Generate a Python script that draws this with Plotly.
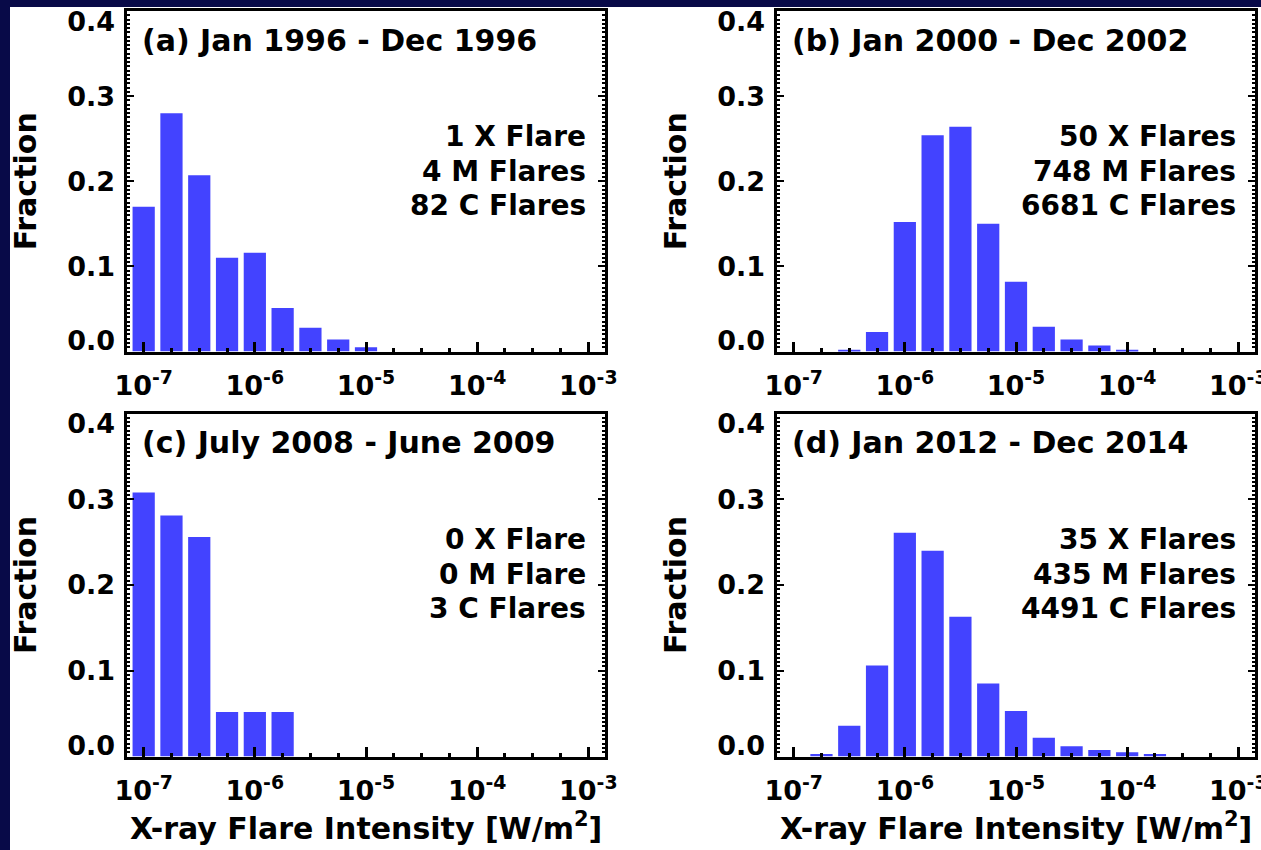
import plotly.graph_objects as go

W, H = 1261, 850

# Histogram bin centres in log10(W/m^2), 0.25-decade bins, and fraction per bin
A_LOGI = [-7.0, -6.75, -6.5, -6.25, -6.0, -5.75, -5.5, -5.25, -5.0]
A_FRAC = [0.170, 0.280, 0.207, 0.110, 0.116, 0.051, 0.028, 0.014, 0.005]

B_LOGI = [-6.5, -6.25, -6.0, -5.75, -5.5, -5.25, -5.0, -4.75, -4.5, -4.25, -4.0]
B_FRAC = [0.002, 0.023, 0.152, 0.254, 0.264, 0.150, 0.082, 0.029, 0.014, 0.007, 0.002]

C_LOGI = [-7.0, -6.75, -6.5, -6.25, -6.0, -5.75]
C_FRAC = [0.308, 0.281, 0.256, 0.052, 0.052, 0.052]

D_LOGI = [-6.75, -6.5, -6.25, -6.0, -5.75, -5.5, -5.25, -5.0, -4.75, -4.5, -4.25, -4.0, -3.75]
D_FRAC = [0.003, 0.036, 0.106, 0.261, 0.240, 0.163, 0.085, 0.053, 0.022, 0.012, 0.0075, 0.005, 0.003]

PANEL_TITLES = [
    "(a) Jan 1996 - Dec 1996",
    "(b) Jan 2000 - Dec 2002",
    "(c) July 2008 - June 2009",
    "(d) Jan 2012 - Dec 2014",
]
FLARE_COUNTS = [
    ["1 X Flare", "4 M Flares", "82 C Flares"],
    ["50 X Flares", "748 M Flares", "6681 C Flares"],
    ["0 X Flare", "0 M Flare", "3 C Flares"],
    ["35 X Flares", "435 M Flares", "4491 C Flares"],
]
X_TICK_EXP = [-7, -6, -5, -4, -3]
Y_TICKS = [0.0, 0.1, 0.2, 0.3, 0.4]
Y_TICK_TEXT = ["0.0", "0.1", "0.2", "0.3", "0.4"]
Y_TITLE = "Fraction"
X_TITLE = "X-ray Flare Intensity [W/m<sup>2</sup>]"

NAVY = "#080a48"
BAR_BLUE = "#4343ff"
FONT = "DejaVu Sans"

# Plot boxes in pixels: (left, right, top, bottom)
BOXES = [
    (127, 605, 11, 351.5),
    (777, 1255, 11, 351.5),
    (127, 605, 413.5, 756.5),
    (777, 1255, 413.5, 756.5),
]
SERIES = [(A_LOGI, A_FRAC), (B_LOGI, B_FRAC), (C_LOGI, C_FRAC), (D_LOGI, D_FRAC)]


def px(x):
    return x / W


def py(y):
    return 1 - y / H


def bold(size):
    return dict(family=FONT, size=size, color="black", weight="bold")


fig = go.Figure()
layout = {}
annotations = []

for i, ((left, right, top, bottom), (logi, frac)) in enumerate(zip(BOXES, SERIES), start=1):
    fig.add_trace(go.Bar(
        x=logi, y=frac, width=0.2,
        marker=dict(color=BAR_BLUE, line=dict(width=0)),
        xaxis=f"x{i}", yaxis=f"y{i}", showlegend=False, hoverinfo="skip",
    ))
    # empty trace so the label-only axis is laid out
    fig.add_trace(go.Scatter(x=[], y=[], xaxis=f"x{i}", yaxis=f"y{i + 4}",
                             showlegend=False, hoverinfo="skip"))

    layout[f"xaxis{i}"] = dict(
        domain=[px(left), px(right)], anchor=f"y{i}",
        range=[-7.15, -2.85], tickmode="array", tickvals=X_TICK_EXP,
        ticktext=[f"10<sup>{e}</sup>" for e in X_TICK_EXP],
        ticks="inside", ticklen=10, tickwidth=3, tickcolor="black",
        minor=dict(tickmode="linear", tick0=-7, dtick=0.25, ticks="inside",
                   ticklen=4, tickwidth=3, tickcolor="black", showgrid=False),
        showline=True, linewidth=3, linecolor="black", mirror=True,
        showgrid=False, zeroline=False, tickfont=bold(27),
        ticklabelstandoff=8, ticklabeloverflow="allow",
        automargin=False, fixedrange=True,
    )
    layout[f"yaxis{i}"] = dict(
        domain=[py(bottom), py(top)], anchor=f"x{i}",
        range=[0, 0.4], tickmode="array", tickvals=Y_TICKS,
        ticks="inside", ticklen=7, tickwidth=2, tickcolor="black",
        minor=dict(tickmode="linear", tick0=0, dtick=0.005, ticks="inside",
                   ticklen=3, tickwidth=1.5, tickcolor="black", showgrid=False),
        showticklabels=False, showline=True, linewidth=3, linecolor="black",
        mirror="ticks", showgrid=False, zeroline=False,
        automargin=False, fixedrange=True,
    )
    # tick labels; the end labels sit inside the axis span
    layout[f"yaxis{i + 4}"] = dict(
        overlaying=f"y{i}", anchor=f"x{i}", side="left",
        range=[0, 0.4], tickmode="array",
        tickvals=[0.0125, 0.1, 0.2, 0.3, 0.388], ticktext=Y_TICK_TEXT,
        ticks="", showline=False, showgrid=False, zeroline=False,
        tickfont=bold(27), ticklabelstandoff=11, ticklabeloverflow="allow",
        automargin=False, fixedrange=True,
    )

    annotations.append(dict(
        text=PANEL_TITLES[i - 1], x=px(left + 13), y=py(top + 29),
        xanchor="left", yanchor="middle", font=bold(30),
    ))
    for k, line in enumerate(FLARE_COUNTS[i - 1]):
        annotations.append(dict(
            text=line, x=px(right - 17), y=py(top + 126 + 34.5 * k),
            xanchor="right", yanchor="middle", font=bold(28),
        ))
    annotations.append(dict(
        text=Y_TITLE, x=px(left - 102), y=py((top + bottom) / 2),
        textangle=-90, xanchor="center", yanchor="middle", font=bold(30),
    ))
    if i >= 3:
        annotations.append(dict(
            text=X_TITLE, x=px((left + right) / 2), y=py(826),
            xanchor="center", yanchor="middle", font=bold(30),
        ))

for a in annotations:
    a.update(xref="paper", yref="paper", showarrow=False)

fig.update_layout(
    width=W, height=H,
    margin=dict(l=0, r=0, t=0, b=0, autoexpand=False),
    paper_bgcolor=NAVY, plot_bgcolor="white", showlegend=False,
    annotations=annotations,
    shapes=[dict(type="rect", xref="paper", yref="paper",
                 x0=px(10), x1=1.01, y0=-0.01, y1=py(7),
                 fillcolor="white", line=dict(width=0), layer="below")],
    **layout,
)

fig.write_html(
    "out.html",
    config={"displayModeBar": False},
    post_script="document.body.style.margin='0';document.body.style.overflow='hidden';",
)
